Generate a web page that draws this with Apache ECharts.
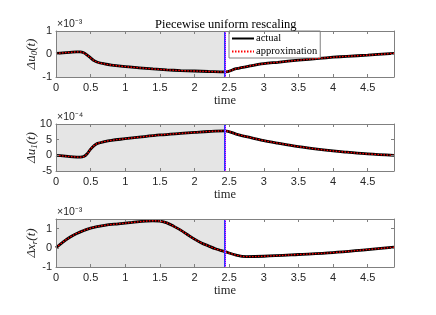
<!DOCTYPE html>
<html>
<head>
<meta charset="utf-8">
<script src="https://cdn.jsdelivr.net/npm/echarts@6/dist/echarts.min.js"></script>
<style>html,body{margin:0;padding:0;background:#fff}#c{width:436px;height:315px}</style>
</head>
<body>
<div id="c"></div>
<script>
// ---- data (values in units of the axis multiplier shown above each plot) ----
const tU0 = [0,0.1,0.2,0.3,0.35,0.4,0.45,0.5,0.55,0.6,0.7,0.8,1.0,1.2,1.4,1.6,1.8,2.0,2.2,2.44,2.6,2.8,3.0,3.2,3.5,3.8,4.0,4.2,4.5,4.88];
const u0  = [0.03,0.05,0.07,0.09,0.09,0.05,-0.05,-0.17,-0.29,-0.36,-0.43,-0.48,-0.55,-0.6,-0.65,-0.69,-0.72,-0.74,-0.76,-0.78,-0.64,-0.52,-0.42,-0.36,-0.27,-0.19,-0.14,-0.1,-0.05,0.03];
const tU1 = [0,0.1,0.2,0.3,0.35,0.4,0.45,0.5,0.55,0.6,0.7,0.8,1.0,1.2,1.5,1.8,2.0,2.2,2.44,2.6,2.8,3.0,3.2,3.5,3.8,4.0,4.2,4.5,4.88];
const u1  = [0,-0.2,-0.4,-0.55,-0.6,-0.4,0.5,2.0,3.1,3.8,4.4,4.8,5.3,5.8,6.5,7.0,7.3,7.6,7.8,6.8,5.7,4.7,3.9,2.8,1.9,1.4,1.0,0.45,0];
const tXr = [0,0.1,0.2,0.3,0.4,0.5,0.7,0.9,1.1,1.3,1.4,1.5,1.6,1.7,1.8,1.9,2.0,2.1,2.2,2.3,2.44,2.6,2.75,3.0,3.5,4.0,4.5,4.88];
const xr  = [0,0.3,0.55,0.75,0.9,1.03,1.17,1.25,1.32,1.39,1.41,1.39,1.3,1.12,0.92,0.68,0.45,0.25,0.1,-0.05,-0.2,-0.38,-0.46,-0.44,-0.35,-0.25,-0.09,0.03];
const switchTime = 2.44;
const tMax = 4.88;
const xTickStep = 0.5;
const multipliers = ['×10⁻³','×10⁻⁴','×10⁻³'];
const yRanges = [[-1,1,1],[-5,10,5],[-1,1.5,1]];
const seriesNames = ['actual','approximation'];

const chart = echarts.init(document.getElementById('c'));
const AX = '#808080', TXT = '#262626';
const serif = 'Liberation Serif';
const sans = 'Liberation Sans';
const grids = [
  {left:56, top:31, width:338, height:46},
  {left:56, top:124, width:338, height:47},
  {left:56, top:219, width:338, height:48}
];
const yNames = [
  '{a|Δu}{s|0}{a|(t)}',
  '{a|Δu}{s|1}{a|(t)}',
  '{a|Δx}{s|r}{a|(t)}'
];
const xAxes = [], yAxes = [], series = [];
const datasets = [[tU0,u0],[tU1,u1],[tXr,xr]];
grids.forEach((g,i)=>{
  const base = {gridIndex:i, type:'value', min:0, max:tMax, interval:xTickStep, z:10,
    axisLine:{show:true, onZero:false, lineStyle:{color:AX,width:1}},
    axisTick:{show:true, inside:true, length:3, lineStyle:{color:AX}},
    splitLine:{show:false}};
  xAxes.push(Object.assign({}, base, {position:'bottom',
    axisLabel:{show:true, color:TXT, fontFamily:sans, fontSize:11, margin:5, showMaxLabel:false,
      formatter:v=>(Math.abs(v/xTickStep-Math.round(v/xTickStep))<1e-6 && v<tMax-0.01)?String(v):''},
    name:'time', nameLocation:'middle', nameGap:16,
    nameTextStyle:{fontFamily:serif, fontSize:12.5, color:TXT}}));
  xAxes.push(Object.assign({}, base, {position:'top', axisLabel:{show:false}}));
  const [ymin,ymax,yint] = yRanges[i];
  const ybase = {gridIndex:i, type:'value', min:ymin, max:ymax, interval:yint, z:10,
    axisLine:{show:true, onZero:false, lineStyle:{color:AX,width:1}},
    axisTick:{show:true, inside:true, length:3, lineStyle:{color:AX}},
    splitLine:{show:false}};
  yAxes.push(Object.assign({}, ybase, {position:'left',
    axisLabel:{show:true, color:TXT, fontFamily:sans, fontSize:11, margin:4,
      formatter:v=>(Math.abs(v/yint-Math.round(v/yint))<1e-6)?String(v):''},
    name:yNames[i], nameLocation:'middle', nameGap:17, nameRotate:90, nameMoveOverlap:false,
    nameTextStyle:{rich:{
      a:{fontFamily:serif, fontStyle:'italic', fontSize:13, color:TXT, lineHeight:15},
      s:{fontFamily:serif, fontStyle:'italic', fontSize:9, color:TXT, lineHeight:9, verticalAlign:'bottom'}
    }}}));
  yAxes.push(Object.assign({}, ybase, {position:'right', axisLabel:{show:false}}));
  const [tt,vv] = datasets[i];
  const pts = tt.map((t,k)=>[t,vv[k]]);
  series.push({name:seriesNames[0], type:'line', xAxisIndex:2*i, yAxisIndex:2*i, data:pts,
    showSymbol:false, symbol:'none', smooth:0.35, lineStyle:{color:'#000', width:2.8}, itemStyle:{color:'#000'},
    z:3,
    markArea:{silent:true, itemStyle:{color:'#e5e5e5'}, data:[[{xAxis:0},{xAxis:switchTime}]]},
    markLine:{silent:true, symbol:'none', label:{show:false}, lineStyle:{color:'#3333ff', type:'solid', width:2},
      data:[{xAxis:switchTime}]}
  });
  series.push({name:seriesNames[1], type:'line', xAxisIndex:2*i, yAxisIndex:2*i, data:pts,
    showSymbol:false, symbol:'none', smooth:0.35, lineStyle:{color:'#ff0000', width:1.3, type:[1.5,1.5]}, itemStyle:{color:'#ff0000'},
    z:4,
    markLine:{silent:true, symbol:'none', label:{show:false}, lineStyle:{color:'#ff33ff', type:[1,1], width:1},
      data:[{xAxis:switchTime}]}
  });
});
const graphics = grids.map((g,i)=>({type:'text', left:g.left+1, top:g.top-12,
  style:{text:multipliers[i], font:'10.5px '+sans, fill:TXT}}));
chart.setOption({
  animation:false,
  backgroundColor:'#fff',
  title:{text:'Piecewise uniform rescaling', top:13, left:150, textStyle:{fontFamily:serif, fontSize:12.5, fontWeight:'normal', color:'#000'}},
  legend:{data:seriesNames, orient:'vertical', left:229, top:31, selectedMode:false,
    backgroundColor:'#fff', borderColor:AX, borderWidth:1, padding:[2,3,1,2], itemGap:2,
    itemWidth:22, itemHeight:8, itemStyle:{opacity:0},
    textStyle:{fontFamily:serif, fontSize:10.5, color:'#000', padding:[0,0,0,-3]}},
  grid:grids.map(g=>Object.assign({containLabel:false, show:false}, g)),
  xAxis:xAxes, yAxis:yAxes, series:series, graphic:graphics
});
</script>
</body>
</html>
